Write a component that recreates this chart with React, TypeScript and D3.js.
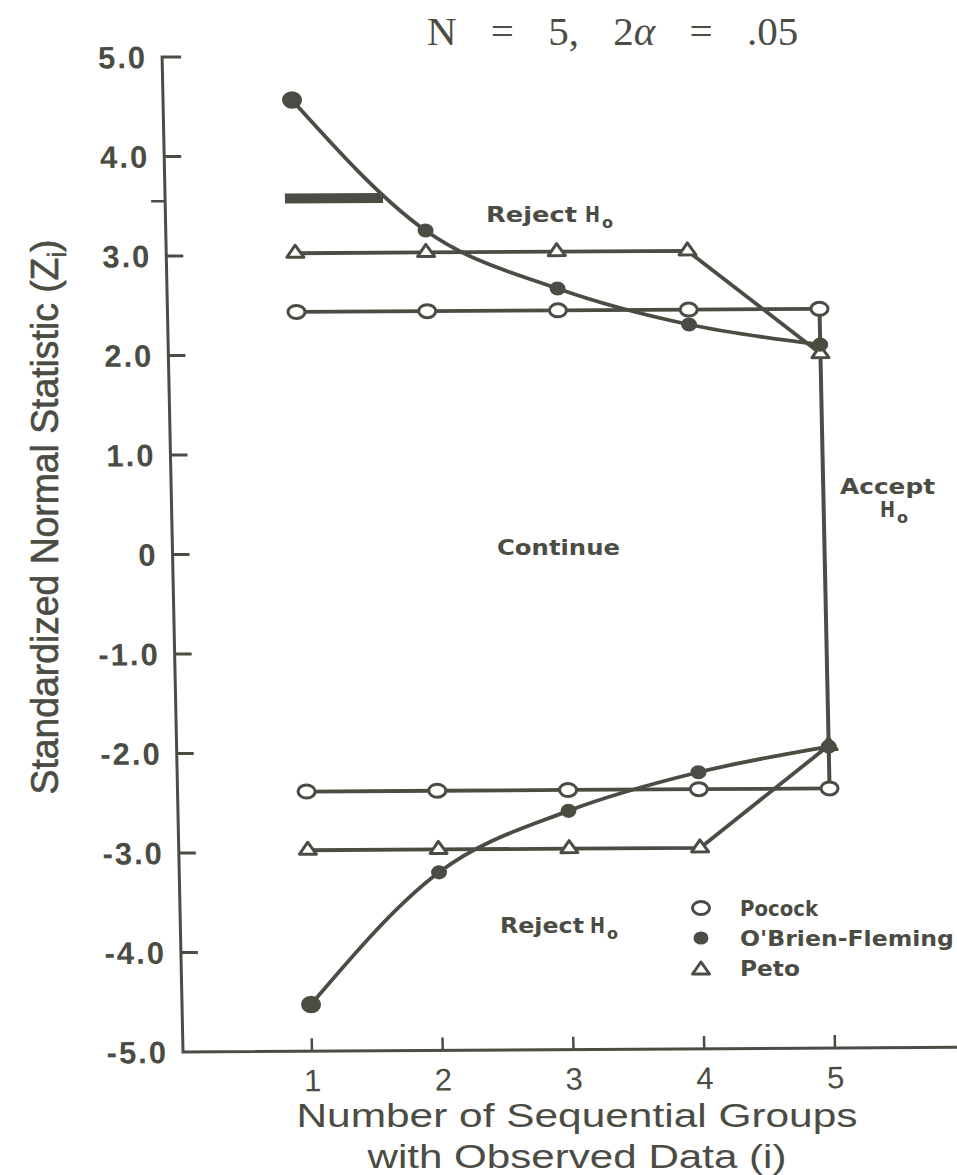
import React from "react";
import * as d3 from "d3";

// group index (i) and the stopping boundaries
const groups = [1, 2, 3, 4, 5];
const pocockUpper = [2.43, 2.43, 2.43, 2.43, 2.43];
const pocockLower = [-2.39, -2.39, -2.39, -2.39, -2.39];
const obfUpper = [4.56, 3.24, 2.65, 2.28, 2.07];
const obfLower = [-4.53, -3.21, -2.6, -2.22, -1.97];
const petoUpper = [3.02, 3.02, 3.02, 3.02, 1.98];
const petoLower = [-2.98, -2.98, -2.98, -2.98, -1.96];

const yTicks = [5, 4, 3, 2, 1, 0, -1, -2, -3, -4, -5];
const yTickLabels = ["5.0", "4.0", "3.0", "2.0", "1.0", "0", "-1.0", "-2.0", "-3.0", "-4.0", "-5.0"];
const xTicks = [1, 2, 3, 4, 5];

// heavy stroke on the upper boundary near i = 1 (from the print)
const heavyBar = { from: 0.93, to: 1.68, value: 3.57 };
const axisMark = 3.55;

const W = 957;
const H = 1175;
const ink = "#4b4c44";

const x = d3.scaleLinear().domain([0.0134, 5.933]).range([183, 957]);
const y = d3.scaleLinear().domain([-5, 5]).range([1052, 57]);

// the scan is slightly sheared; reproduce that on the plot layer
const k = 0.021;
const b = -0.006;
const shear = `matrix(1 ${b} ${k} 1 ${(-k * 1052).toFixed(2)} ${(-b * 183).toFixed(2)})`;

const toPts = (vals: number[]) => groups.map((g, i) => [g, vals[i]] as [number, number]);

const straight = d3
  .line<[number, number]>()
  .x((d) => x(d[0]))
  .y((d) => y(d[1]));

const smooth = d3
  .line<[number, number]>()
  .x((d) => x(d[0]))
  .y((d) => y(d[1]))
  .curve(d3.curveMonotoneX);

const Circle = ({ cx, cy }: { cx: number; cy: number }) => (
  <ellipse cx={cx} cy={cy} rx={8.5} ry={6.5} fill="#fff" stroke={ink} strokeWidth={3} />
);

const Dot = ({ cx, cy, r = 8.5 }: { cx: number; cy: number; r?: number }) => (
  <ellipse cx={cx} cy={cy} rx={r} ry={r * 0.88} fill={ink} />
);

const Tri = ({ cx, cy }: { cx: number; cy: number }) => (
  <path
    d={`M${cx - 8.5},${cy + 4} L${cx},${cy - 8} L${cx + 8.5},${cy + 4} Z`}
    fill="#fff"
    stroke={ink}
    strokeWidth={3}
    strokeLinejoin="round"
  />
);

const labelFont = "'Liberation Sans', Arial, Helvetica, sans-serif";
const smallFont = "'DejaVu Sans', 'Liberation Sans', sans-serif";

const Small = ({ x0, base, w, children }: { x0: number; base: number; w: number; children: React.ReactNode }) => (
  <text
    x={x0}
    y={base}
    fontFamily={smallFont}
    fontWeight="bold"
    fontSize={22}
    fill={ink}
    textLength={w}
    lengthAdjust="spacingAndGlyphs"
  >
    {children}
  </text>
);

const HSub = ({ x0, base }: { x0: number; base: number }) => (
  <>
    <text
      x={x0}
      y={base}
      fontFamily={smallFont}
      fontWeight="bold"
      fontSize={22}
      fill={ink}
      textLength={15}
      lengthAdjust="spacingAndGlyphs"
    >
      H
    </text>
    <text x={x0 + 17} y={base + 6} fontFamily={smallFont} fontWeight="bold" fontSize={16} fill={ink}>
      o
    </text>
  </>
);

export default function App() {
  return (
    <svg
      width={W}
      height={H}
      viewBox={`0 0 ${W} ${H}`}
      style={{ position: "absolute", left: 0, top: 0, background: "#fff" }}
    >
      <rect width={W} height={H} fill="#fff" />

      {/* title */}
      <text
        x={427}
        y={45}
        fontFamily="'Liberation Serif', 'Times New Roman', serif"
        fontSize={41}
        wordSpacing={24}
        fill={ink}
      >
        N = 5, 2<tspan fontStyle="italic">α</tspan> = .05
      </text>

      <g transform={shear}>
        {/* axes */}
        <path
          d={`M${x(0.0134) + 19},${y(5)} H${x(0.0134)} V${y(-5)} H${x(5.933)}`}
          fill="none"
          stroke={ink}
          strokeWidth={3}
        />
        {yTicks.slice(1, -1).map((t) => (
          <line key={t} x1={x(0.0134)} x2={x(0.0134) + 17} y1={y(t)} y2={y(t)} stroke={ink} strokeWidth={3} />
        ))}
        <line x1={x(0.0134) - 14} x2={x(0.0134)} y1={y(axisMark)} y2={y(axisMark)} stroke={ink} strokeWidth={2.5} />
        {yTicks.map((t, i) => (
          <text
            key={t}
            x={x(0.0134) - 15}
            y={y(t) + 11}
            textAnchor="end"
            fontFamily={labelFont}
            fontWeight="bold"
            fontSize={31}
            letterSpacing={2}
            fill={ink}
          >
            {yTickLabels[i]}
          </text>
        ))}
        {xTicks.map((t) => (
          <g key={t}>
            <line x1={x(t)} x2={x(t)} y1={y(-5)} y2={y(-5) - 13} stroke={ink} strokeWidth={2.5} />
            <text
              x={x(t)}
              y={y(-5) + 40}
              textAnchor="middle"
              fontFamily={labelFont}
              fontSize={31}
              fill={ink}
            >
              {t}
            </text>
          </g>
        ))}

        {/* boundaries */}
        <g fill="none" stroke={ink} strokeWidth={3.8} strokeLinejoin="round">
          <path d={straight(toPts(pocockUpper)) ?? ""} />
          <path d={straight(toPts(pocockLower)) ?? ""} />
          <path d={straight(toPts(petoUpper)) ?? ""} />
          <path d={straight(toPts(petoLower)) ?? ""} />
          <path d={smooth(toPts(obfUpper)) ?? ""} />
          <path d={smooth(toPts(obfLower)) ?? ""} />
          <line x1={x(5)} x2={x(5)} y1={y(pocockUpper[4])} y2={y(pocockLower[4])} strokeWidth={4} />
          <line
            x1={x(heavyBar.from)}
            x2={x(heavyBar.to)}
            y1={y(heavyBar.value)}
            y2={y(heavyBar.value)}
            strokeWidth={10}
          />
        </g>

        {groups.map((g, i) => (
          <g key={g}>
            <Circle cx={x(g)} cy={y(pocockUpper[i])} />
            <Circle cx={x(g)} cy={y(pocockLower[i])} />
            <Tri cx={x(g)} cy={y(petoUpper[i])} />
            <Tri cx={x(g)} cy={y(petoLower[i])} />
            <Dot cx={x(g)} cy={y(obfUpper[i])} r={i === 0 ? 10 : 8} />
            <Dot cx={x(g)} cy={y(obfLower[i])} r={i === 0 ? 10 : 8} />
          </g>
        ))}
      </g>

      {/* region labels */}
      <Small x0={486} base={222} w={91}>Reject</Small>
      <HSub x0={585} base={222} />
      <Small x0={500} base={933} w={84}>Reject</Small>
      <HSub x0={590} base={933} />
      <Small x0={497} base={555} w={123}>Continue</Small>
      <Small x0={840} base={494} w={95}>Accept</Small>
      <HSub x0={880} base={517} />

      {/* legend */}
      <Circle cx={701} cy={908} />
      <Dot cx={701} cy={938} r={7.5} />
      <Tri cx={701} cy={970} />
      <Small x0={740} base={916} w={78}>Pocock</Small>
      <Small x0={740} base={946} w={214}>O'Brien-Fleming</Small>
      <Small x0={740} base={976} w={60}>Peto</Small>

      {/* axis titles */}
      <text
        transform="translate(58,517) rotate(-90)"
        textAnchor="middle"
        fontFamily={labelFont}
        fontSize={38}
        fill={ink}
        stroke={ink}
        strokeWidth={0.6}
        textLength={555}
        lengthAdjust="spacingAndGlyphs"
      >
        Standardized Normal Statistic (Z<tspan fontSize={26} dy={8}>i</tspan>
        <tspan dy={-8}>)</tspan>
      </text>
      <text
        x={577}
        y={1127}
        textAnchor="middle"
        fontFamily={labelFont}
        fontSize={33}
        fill={ink}
        textLength={561}
        lengthAdjust="spacingAndGlyphs"
      >
        Number of Sequential Groups
      </text>
      <text
        x={577}
        y={1168}
        textAnchor="middle"
        fontFamily={labelFont}
        fontSize={33}
        fill={ink}
        textLength={419}
        lengthAdjust="spacingAndGlyphs"
      >
        with Observed Data (i)
      </text>
    </svg>
  );
}
